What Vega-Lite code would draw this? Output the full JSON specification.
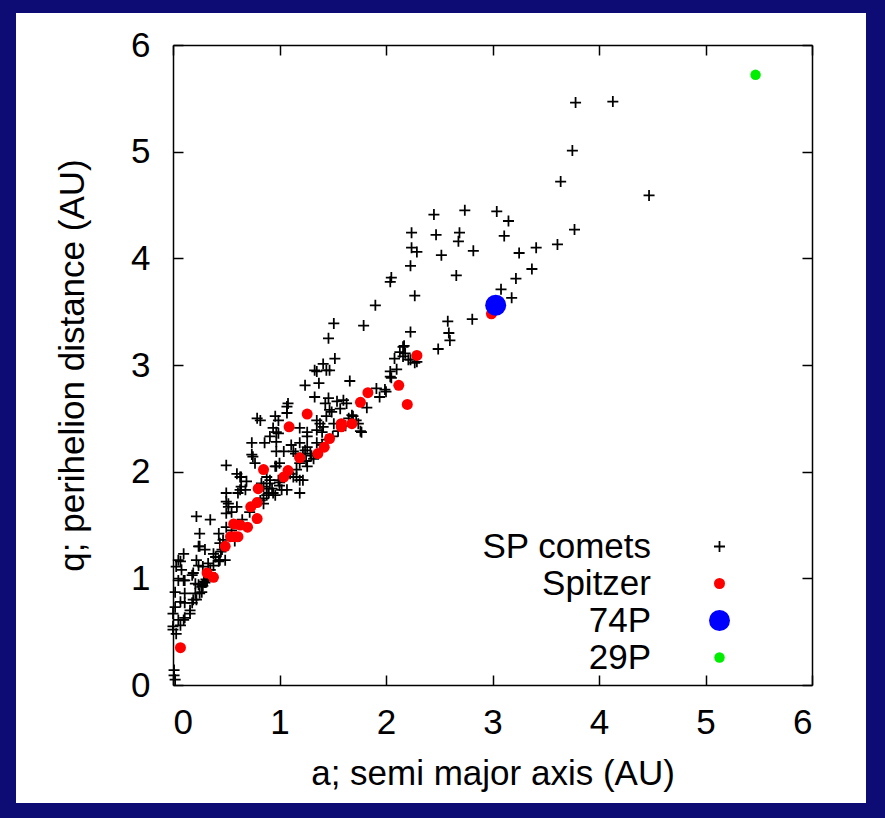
{
"$schema": "https://vega.github.io/schema/vega-lite/v6.json",
"width": 850, "height": 790,
"autosize": {"type": "none"},
"padding": {"left": 16, "top": 13, "right": 19, "bottom": 15},
"background": "#0c0c74",
"config": {
  "view": {"fill": "white", "stroke": null},
  "font": "Liberation Sans",
  "axis": {"grid": false, "domainColor": "#000000", "domainWidth": 1.5, "tickColor": "#000000", "tickWidth": 1.5,
           "labelFont": "Liberation Sans", "labelFontSize": 35, "labelColor": "#000000",
           "titleFont": "Liberation Sans", "titleFontSize": 35, "titleFontWeight": "normal", "titleColor": "#000000"}
},
"data": {"values": [
{"a":3.78,"q":5.46,"s":"SP comets"},{"a":4.13,"q":5.47,"s":"SP comets"},{"a":3.75,"q":5.01,"s":"SP comets"},{"a":3.64,"q":4.72,"s":"SP comets"},{"a":4.47,"q":4.59,"s":"SP comets"},{"a":3.77,"q":4.27,"s":"SP comets"},{"a":3.61,"q":4.13,"s":"SP comets"},{"a":3.41,"q":4.10,"s":"SP comets"},{"a":3.37,"q":3.90,"s":"SP comets"},{"a":3.25,"q":4.05,"s":"SP comets"},{"a":3.22,"q":3.81,"s":"SP comets"},{"a":3.18,"q":3.63,"s":"SP comets"},{"a":3.08,"q":3.71,"s":"SP comets"},{"a":2.81,"q":3.43,"s":"SP comets"},{"a":2.58,"q":3.41,"s":"SP comets"},{"a":2.59,"q":3.30,"s":"SP comets"},{"a":2.60,"q":3.23,"s":"SP comets"},{"a":2.23,"q":3.31,"s":"SP comets"},{"a":2.27,"q":3.65,"s":"SP comets"},{"a":2.66,"q":3.84,"s":"SP comets"},{"a":2.23,"q":3.93,"s":"SP comets"},{"a":2.05,"q":3.82,"s":"SP comets"},{"a":2.04,"q":3.78,"s":"SP comets"},{"a":2.24,"q":4.24,"s":"SP comets"},{"a":2.24,"q":4.10,"s":"SP comets"},{"a":2.29,"q":4.06,"s":"SP comets"},{"a":2.45,"q":4.41,"s":"SP comets"},{"a":2.47,"q":4.22,"s":"SP comets"},{"a":2.74,"q":4.45,"s":"SP comets"},{"a":2.69,"q":4.24,"s":"SP comets"},{"a":2.68,"q":4.16,"s":"SP comets"},{"a":2.52,"q":4.03,"s":"SP comets"},{"a":2.82,"q":4.07,"s":"SP comets"},{"a":3.04,"q":4.44,"s":"SP comets"},{"a":3.15,"q":4.35,"s":"SP comets"},{"a":3.11,"q":4.21,"s":"SP comets"},
{"a":1.90,"q":3.56,"s":"SP comets"},{"a":1.51,"q":3.39,"s":"SP comets"},{"a":1.79,"q":3.37,"s":"SP comets"},{"a":1.46,"q":3.25,"s":"SP comets"},{"a":2.49,"q":3.15,"s":"SP comets"},{"a":2.17,"q":3.18,"s":"SP comets"},{"a":2.13,"q":3.12,"s":"SP comets"},{"a":2.08,"q":3.06,"s":"SP comets"},{"a":2.16,"q":3.08,"s":"SP comets"},{"a":2.21,"q":3.05,"s":"SP comets"},{"a":2.27,"q":3.02,"s":"SP comets"},{"a":2.10,"q":2.96,"s":"SP comets"},{"a":2.04,"q":2.94,"s":"SP comets"},{"a":2.05,"q":2.88,"s":"SP comets"},{"a":1.66,"q":2.85,"s":"SP comets"},{"a":1.52,"q":3.06,"s":"SP comets"},{"a":1.41,"q":3.01,"s":"SP comets"},{"a":1.47,"q":2.95,"s":"SP comets"},{"a":1.33,"q":2.95,"s":"SP comets"},{"a":1.91,"q":2.78,"s":"SP comets"},{"a":1.99,"q":2.77,"s":"SP comets"},{"a":1.94,"q":2.70,"s":"SP comets"},{"a":1.82,"q":2.60,"s":"SP comets"},{"a":1.35,"q":2.94,"s":"SP comets"},{"a":1.24,"q":2.81,"s":"SP comets"},{"a":1.37,"q":2.83,"s":"SP comets"},{"a":1.33,"q":2.70,"s":"SP comets"},{"a":1.46,"q":2.69,"s":"SP comets"},{"a":1.43,"q":2.64,"s":"SP comets"},{"a":1.54,"q":2.66,"s":"SP comets"},{"a":1.63,"q":2.64,"s":"SP comets"},{"a":1.49,"q":2.56,"s":"SP comets"},{"a":1.57,"q":2.59,"s":"SP comets"},{"a":1.08,"q":2.64,"s":"SP comets"},{"a":1.07,"q":2.61,"s":"SP comets"},{"a":0.96,"q":2.52,"s":"SP comets"},{"a":0.99,"q":2.48,"s":"SP comets"},{"a":0.94,"q":2.41,"s":"SP comets"},{"a":0.97,"q":2.37,"s":"SP comets"},{"a":0.82,"q":2.48,"s":"SP comets"},{"a":0.79,"q":2.50,"s":"SP comets"},{"a":0.91,"q":2.33,"s":"SP comets"},{"a":1.19,"q":2.41,"s":"SP comets"},{"a":1.26,"q":2.37,"s":"SP comets"},{"a":1.35,"q":2.48,"s":"SP comets"},{"a":1.38,"q":2.45,"s":"SP comets"},{"a":1.44,"q":2.52,"s":"SP comets"},{"a":1.40,"q":2.37,"s":"SP comets"},{"a":1.77,"q":2.37,"s":"SP comets"},{"a":1.68,"q":2.53,"s":"SP comets"},{"a":1.72,"q":2.48,"s":"SP comets"},{"a":1.11,"q":2.25,"s":"SP comets"},{"a":1.13,"q":2.19,"s":"SP comets"},{"a":1.26,"q":2.23,"s":"SP comets"},{"a":1.29,"q":2.17,"s":"SP comets"},{"a":1.32,"q":2.12,"s":"SP comets"},{"a":1.04,"q":2.19,"s":"SP comets"},{"a":1.00,"q":2.08,"s":"SP comets"},{"a":0.97,"q":2.05,"s":"SP comets"},{"a":1.16,"q":2.02,"s":"SP comets"},{"a":1.13,"q":1.95,"s":"SP comets"},{"a":1.19,"q":1.92,"s":"SP comets"},{"a":0.91,"q":1.92,"s":"SP comets"},{"a":1.00,"q":1.87,"s":"SP comets"},{"a":0.88,"q":1.84,"s":"SP comets"},{"a":1.07,"q":1.83,"s":"SP comets"},{"a":0.94,"q":1.80,"s":"SP comets"},{"a":1.19,"q":1.80,"s":"SP comets"},{"a":0.74,"q":2.27,"s":"SP comets"},{"a":0.86,"q":2.27,"s":"SP comets"},{"a":0.50,"q":2.06,"s":"SP comets"},{"a":0.75,"q":2.14,"s":"SP comets"},{"a":0.60,"q":1.98,"s":"SP comets"},{"a":0.64,"q":1.95,"s":"SP comets"},{"a":0.69,"q":1.91,"s":"SP comets"},{"a":0.64,"q":1.86,"s":"SP comets"},{"a":0.68,"q":1.83,"s":"SP comets"},{"a":0.61,"q":1.80,"s":"SP comets"},{"a":0.50,"q":1.80,"s":"SP comets"},{"a":0.50,"q":1.72,"s":"SP comets"},{"a":0.52,"q":1.67,"s":"SP comets"},{"a":0.55,"q":1.62,"s":"SP comets"},{"a":0.83,"q":1.89,"s":"SP comets"},{"a":0.93,"q":1.84,"s":"SP comets"},{"a":0.88,"q":1.78,"s":"SP comets"},{"a":0.96,"q":1.78,"s":"SP comets"},{"a":1.02,"q":1.83,"s":"SP comets"},{"a":0.99,"q":1.92,"s":"SP comets"},{"a":0.22,"q":1.58,"s":"SP comets"},{"a":0.35,"q":1.55,"s":"SP comets"},{"a":0.25,"q":1.42,"s":"SP comets"},{"a":0.24,"q":1.30,"s":"SP comets"},{"a":0.30,"q":1.27,"s":"SP comets"},{"a":0.43,"q":1.42,"s":"SP comets"},{"a":0.44,"q":1.33,"s":"SP comets"},{"a":0.38,"q":1.23,"s":"SP comets"},{"a":0.43,"q":1.17,"s":"SP comets"},{"a":1.24,"q":2.20,"s":"SP comets"},{"a":1.15,"q":2.17,"s":"SP comets"},{"a":0.97,"q":2.28,"s":"SP comets"},{"a":1.07,"q":2.55,"s":"SP comets"},{"a":0.99,"q":2.36,"s":"SP comets"},{"a":0.97,"q":2.19,"s":"SP comets"},{"a":0.96,"q":2.05,"s":"SP comets"},{"a":0.85,"q":1.86,"s":"SP comets"},{"a":0.82,"q":1.73,"s":"SP comets"},{"a":0.85,"q":1.70,"s":"SP comets"},{"a":0.91,"q":1.89,"s":"SP comets"},{"a":0.88,"q":1.95,"s":"SP comets"},{"a":1.19,"q":2.27,"s":"SP comets"},{"a":1.26,"q":2.33,"s":"SP comets"},{"a":1.19,"q":2.08,"s":"SP comets"},{"a":1.22,"q":2.17,"s":"SP comets"},{"a":1.35,"q":2.39,"s":"SP comets"},{"a":1.41,"q":2.42,"s":"SP comets"},{"a":1.44,"q":2.30,"s":"SP comets"},{"a":1.35,"q":2.27,"s":"SP comets"},{"a":1.47,"q":2.58,"s":"SP comets"},{"a":1.60,"q":2.67,"s":"SP comets"},{"a":1.51,"q":2.45,"s":"SP comets"},{"a":1.69,"q":2.52,"s":"SP comets"},{"a":1.76,"q":2.38,"s":"SP comets"},{"a":1.26,"q":2.05,"s":"SP comets"},{"a":1.16,"q":1.95,"s":"SP comets"},{"a":1.22,"q":1.92,"s":"SP comets"},{"a":0.63,"q":1.95,"s":"SP comets"},{"a":0.63,"q":1.83,"s":"SP comets"},{"a":0.77,"q":2.08,"s":"SP comets"},{"a":0.74,"q":2.16,"s":"SP comets"},{"a":0.60,"q":1.67,"s":"SP comets"},{"a":0.50,"q":1.61,"s":"SP comets"},{"a":0.52,"q":1.70,"s":"SP comets"},{"a":0.50,"q":1.48,"s":"SP comets"},{"a":2.16,"q":3.17,"s":"SP comets"},{"a":2.18,"q":3.11,"s":"SP comets"},{"a":2.23,"q":3.05,"s":"SP comets"},{"a":2.29,"q":3.03,"s":"SP comets"},{"a":2.00,"q":2.75,"s":"SP comets"},{"a":2.04,"q":2.89,"s":"SP comets"},{"a":1.44,"q":2.95,"s":"SP comets"},{"a":1.74,"q":2.45,"s":"SP comets"},
{"a":0.05,"q":1.17,"s":"SP comets"},{"a":0.03,"q":1.11,"s":"SP comets"},{"a":0.05,"q":0.98,"s":"SP comets"},{"a":0.02,"q":0.87,"s":"SP comets"},{"a":0.07,"q":0.78,"s":"SP comets"},{"a":0.02,"q":0.73,"s":"SP comets"},{"a":0.00,"q":0.67,"s":"SP comets"},{"a":0.05,"q":0.61,"s":"SP comets"},{"a":0.00,"q":0.52,"s":"SP comets"},{"a":0.11,"q":0.77,"s":"SP comets"},{"a":0.18,"q":0.77,"s":"SP comets"},{"a":0.22,"q":0.80,"s":"SP comets"},{"a":0.11,"q":0.86,"s":"SP comets"},{"a":0.21,"q":0.86,"s":"SP comets"},{"a":0.27,"q":0.87,"s":"SP comets"},{"a":0.16,"q":0.67,"s":"SP comets"},{"a":0.11,"q":0.63,"s":"SP comets"},{"a":0.07,"q":0.56,"s":"SP comets"},{"a":0.24,"q":1.12,"s":"SP comets"},{"a":0.33,"q":1.14,"s":"SP comets"},{"a":0.43,"q":1.16,"s":"SP comets"},{"a":0.49,"q":1.17,"s":"SP comets"},{"a":0.11,"q":0.98,"s":"SP comets"},{"a":0.18,"q":1.03,"s":"SP comets"},{"a":0.24,"q":0.94,"s":"SP comets"},{"a":0.08,"q":1.08,"s":"SP comets"},{"a":0.30,"q":0.96,"s":"SP comets"},{"a":0.28,"q":0.93,"s":"SP comets"},{"a":0.32,"q":0.98,"s":"SP comets"},{"a":0.10,"q":1.23,"s":"SP comets"},{"a":0.07,"q":1.16,"s":"SP comets"},{"a":0.16,"q":0.70,"s":"SP comets"},{"a":0.19,"q":0.80,"s":"SP comets"},{"a":0.25,"q":0.86,"s":"SP comets"},{"a":0.21,"q":0.95,"s":"SP comets"},{"a":0.35,"q":1.05,"s":"SP comets"},{"a":0.38,"q":1.12,"s":"SP comets"},{"a":0.44,"q":1.17,"s":"SP comets"},{"a":0.46,"q":1.27,"s":"SP comets"},{"a":0.47,"q":1.36,"s":"SP comets"},{"a":0.28,"q":1.11,"s":"SP comets"},{"a":0.19,"q":1.05,"s":"SP comets"},{"a":0.22,"q":1.17,"s":"SP comets"},{"a":0.25,"q":1.30,"s":"SP comets"},{"a":0.10,"q":0.61,"s":"SP comets"},{"a":0.00,"q":0.55,"s":"SP comets"},{"a":0.03,"q":0.48,"s":"SP comets"},{"a":0.01,"q":0.14,"s":"SP comets"},{"a":0.01,"q":0.09,"s":"SP comets"},{"a":0.02,"q":0.05,"s":"SP comets"},{"a":0.10,"q":0.98,"s":"SP comets"},
{"a":0.55,"q":1.45,"s":"SP comets"},{"a":0.65,"q":1.55,"s":"SP comets"},{"a":0.72,"q":1.62,"s":"SP comets"},{"a":0.58,"q":1.35,"s":"SP comets"},{"a":0.45,"q":1.25,"s":"SP comets"},{"a":0.40,"q":1.20,"s":"SP comets"},{"a":0.35,"q":1.08,"s":"SP comets"},{"a":0.29,"q":0.97,"s":"SP comets"},{"a":0.31,"q":0.99,"s":"SP comets"},{"a":0.27,"q":0.92,"s":"SP comets"},{"a":0.85,"q":1.75,"s":"SP comets"},{"a":0.90,"q":1.80,"s":"SP comets"},{"a":1.00,"q":1.90,"s":"SP comets"},{"a":1.10,"q":1.98,"s":"SP comets"},{"a":1.25,"q":2.10,"s":"SP comets"},{"a":1.30,"q":2.15,"s":"SP comets"},{"a":1.40,"q":2.25,"s":"SP comets"},{"a":1.50,"q":2.33,"s":"SP comets"},{"a":1.55,"q":2.38,"s":"SP comets"},{"a":1.62,"q":2.43,"s":"SP comets"},{"a":1.65,"q":2.50,"s":"SP comets"},
{"a":0.07,"q":0.35,"s":"Spitzer"},{"a":0.32,"q":1.05,"s":"Spitzer"},{"a":0.38,"q":1.01,"s":"Spitzer"},{"a":0.49,"q":1.30,"s":"Spitzer"},{"a":0.54,"q":1.39,"s":"Spitzer"},{"a":0.58,"q":1.39,"s":"Spitzer"},{"a":0.61,"q":1.39,"s":"Spitzer"},{"a":0.57,"q":1.51,"s":"Spitzer"},{"a":0.63,"q":1.50,"s":"Spitzer"},{"a":0.70,"q":1.48,"s":"Spitzer"},{"a":0.79,"q":1.56,"s":"Spitzer"},{"a":0.73,"q":1.67,"s":"Spitzer"},{"a":0.79,"q":1.71,"s":"Spitzer"},{"a":0.80,"q":1.84,"s":"Spitzer"},{"a":0.85,"q":2.02,"s":"Spitzer"},{"a":1.04,"q":1.95,"s":"Spitzer"},{"a":1.08,"q":2.01,"s":"Spitzer"},{"a":1.19,"q":2.13,"s":"Spitzer"},{"a":1.36,"q":2.17,"s":"Spitzer"},{"a":1.42,"q":2.23,"s":"Spitzer"},{"a":1.47,"q":2.31,"s":"Spitzer"},{"a":1.09,"q":2.42,"s":"Spitzer"},{"a":1.26,"q":2.54,"s":"Spitzer"},{"a":1.58,"q":2.45,"s":"Spitzer"},{"a":1.68,"q":2.45,"s":"Spitzer"},{"a":1.58,"q":2.42,"s":"Spitzer"},{"a":1.76,"q":2.65,"s":"Spitzer"},{"a":1.83,"q":2.74,"s":"Spitzer"},{"a":2.12,"q":2.81,"s":"Spitzer"},{"a":2.20,"q":2.63,"s":"Spitzer"},{"a":2.29,"q":3.09,"s":"Spitzer"},{"a":2.99,"q":3.48,"s":"Spitzer"},
{"a":3.03,"q":3.56,"s":"74P"},
{"a":5.47,"q":5.72,"s":"29P"}
]},
"layer": [
 {"mark": {"type": "point", "opacity": 0},
  "encoding": {
   "x": {"field": "a", "type": "quantitative", "scale": {"domain": [0, 6], "range": [157, 796], "nice": false, "zero": false},
         "axis": {"orient": "top", "offset": -32, "values": [0,1,2,3,4,5,6], "labels": false, "title": null, "tickSize": -10}},
   "y": {"field": "q", "type": "quantitative", "scale": {"domain": [0, 6], "range": [672, 32], "nice": false, "zero": false},
         "axis": {"orient": "right", "offset": -54, "values": [0,1,2,3,4,5,6], "labels": false, "title": null, "tickSize": -10}}
  }},
 {"mark": {"type": "point", "filled": true, "opacity": 1, "strokeWidth": 0},
  "encoding": {
   "x": {"field": "a", "type": "quantitative", "scale": {"domain": [0, 6], "range": [157, 796], "nice": false, "zero": false},
         "axis": {"orient": "bottom", "offset": -118, "values": [0,1,2,3,4,5,6], "tickSize": -10, "labelPadding": 30,
                  "title": "a; semi major axis (AU)", "titlePadding": 16}},
   "y": {"field": "q", "type": "quantitative", "scale": {"domain": [0, 6], "range": [672, 32], "nice": false, "zero": false},
         "axis": {"orient": "left", "offset": -157, "values": [0,1,2,3,4,5,6], "tickSize": -10, "labelPadding": 33,
                  "title": "q; perihelion distance (AU)", "titlePadding": 40}},
   "color": {"field": "s", "type": "nominal",
             "scale": {"domain": ["SP comets", "Spitzer", "74P", "29P"], "range": ["#000000", "#ff0000", "#0000ff", "#00ee00"]},
             "legend": {"orient": "none", "legendX": 686, "legendY": 516, "title": null, "labelFontSize": 35,
                        "labelFont": "Liberation Sans", "labelColor": "#000000", "labelAlign": "right", "labelOffset": -86,
                        "labelLimit": 400, "padding": 0, "rowPadding": 1, "symbolStrokeWidth": 0, "symbolOpacity": 1}},
   "shape": {"field": "s", "type": "nominal",
             "scale": {"domain": ["SP comets", "Spitzer", "74P", "29P"],
                       "range": ["M-1,-0.16H-0.16V-1H0.16V-0.16H1V0.16H0.16V1H-0.16V0.16H-1Z", "circle", "circle", "circle"]}},
   "size": {"field": "s", "type": "nominal",
            "scale": {"type": "ordinal", "domain": ["SP comets", "Spitzer", "74P", "29P"], "range": [121, 121, 441, 110]}}
  }}
],
"resolve": {"axis": {"x": "independent", "y": "independent"}}
}
